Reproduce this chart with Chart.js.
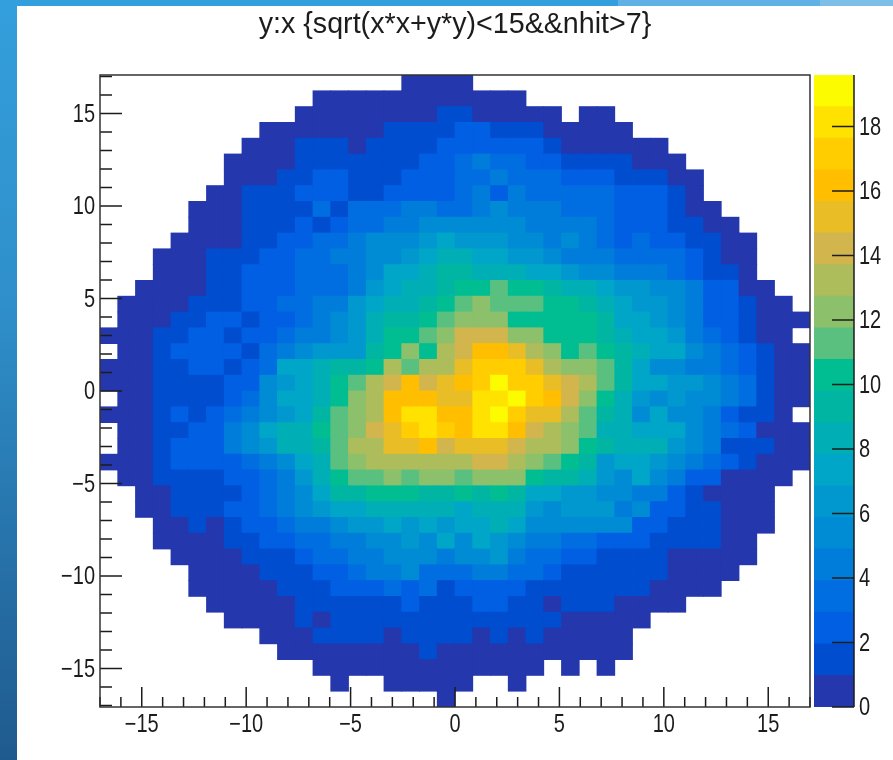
<!DOCTYPE html>
<html>
<head>
<meta charset="utf-8">
<title>y:x</title>
<script src="https://cdn.jsdelivr.net/npm/chart.js@4/dist/chart.umd.min.js"></script>
<style>
  html, body { margin: 0; padding: 0; background: #fff; overflow: hidden; width: 893px; height: 760px; }
  #stripe-left { position: absolute; left: 0; top: 0; width: 17px; height: 760px; background: linear-gradient(180deg, #339fdc 0%, #2f8fca 40%, #1f5a8e 100%); }
  #stripe-top { position: absolute; left: 0; top: 0; width: 893px; height: 6px; background: linear-gradient(90deg, #339fdc 0 618px, #5fb0e4 618px 820px, #7dbfe9 820px); }
  canvas { position: absolute; top: 0; }
  #heat { left: 0; }
  #palette { left: 800px; }
</style>
</head>
<body>
<div id="stripe-left"></div>
<div id="stripe-top"></div>
<canvas id="heat" width="812" height="760"></canvas>
<canvas id="palette" width="93" height="760"></canvas>
<script>
const titleText = 'y:x {sqrt(x*x+y*y)<15&&nhit>7}';
const xMin = -17;
const xMax = 17;
const yMin = -17.08;
const yMax = 17.08;
const zMax = 19.6;
const zTickStep = 2;
const _ = null;

// bin contents, top row first, left to right
const counts = [
[_,_,_,_,_,_,_,_,_,_, _,_,_,_,_,_,_,0,0,0, 0,_,_,_,_,_,_,_,_,_, _,_,_,_,_,_,_,_,_,_],
[_,_,_,_,_,_,_,_,_,_, _,_,0,0,0,0,0,0,0,0, 0,0,0,0,_,_,_,_,_,_, _,_,_,_,_,_,_,_,_,_],
[_,_,_,_,_,_,_,_,_,_, _,0,0,0,0,0,0,0,0,1, 1,0,0,0,0,0,_,0,0,_, _,_,_,_,_,_,_,_,_,_],
[_,_,_,_,_,_,_,_,_,0, 0,0,0,0,0,0,1,1,1,1, 2,2,1,1,1,0,0,0,0,0, _,_,_,_,_,_,_,_,_,_],
[_,_,_,_,_,_,_,_,0,0, 0,1,1,1,0,1,1,1,1,2, 2,2,2,2,2,1,0,0,0,0, 0,0,_,_,_,_,_,_,_,_],
[_,_,_,_,_,_,_,0,0,0, 0,1,1,1,1,1,1,1,2,2, 3,4,3,3,2,2,1,1,1,1, 0,0,0,_,_,_,_,_,_,_],
[_,_,_,_,_,_,_,0,0,0, 1,1,2,2,1,1,1,2,2,2, 3,3,4,3,3,3,2,2,2,1, 1,1,0,0,_,_,_,_,_,_],
[_,_,_,_,_,_,0,0,1,1, 1,2,2,2,1,1,2,2,2,2, 3,4,2,4,3,3,3,3,3,2, 2,2,1,0,_,_,_,_,_,_],
[_,_,_,_,_,0,0,0,1,1, 1,1,3,1,3,3,3,4,4,3, 3,4,5,4,4,4,3,3,3,2, 2,2,1,0,0,_,_,_,_,_],
[_,_,_,_,_,0,0,0,1,1, 1,2,1,2,3,3,4,4,5,5, 5,5,5,5,4,4,4,4,3,2, 2,2,1,1,0,0,_,_,_,_],
[_,_,_,_,0,0,0,0,1,1, 2,2,3,3,4,5,5,5,6,7, 6,6,6,5,5,4,5,4,3,2, 3,2,2,1,1,0,0,_,_,_],
[_,_,_,0,0,0,1,1,1,2, 2,3,3,4,4,5,5,6,7,8, 8,7,7,6,6,5,4,4,4,3, 3,3,3,2,1,0,0,_,_,_],
[_,_,_,0,0,0,1,1,2,2, 2,3,3,3,4,5,7,7,8,9, 9,8,8,8,7,7,6,5,5,4, 4,4,3,2,1,1,0,_,_,_],
[_,_,0,0,0,0,1,1,2,2, 2,3,3,3,4,6,7,8,8,9, 10,10,11,10,10,9,8,8,7,6, 6,5,5,4,2,2,0,0,_,_],
[_,0,0,0,0,1,1,1,2,2, 3,3,4,4,6,7,8,8,9,10, 11,12,11,11,11,10,10,9,8,7, 6,6,5,4,2,2,1,0,0,_],
[_,0,0,0,1,1,2,2,1,2, 2,3,4,5,6,8,9,9,10,11, 12,12,12,10,10,10,10,10,9,7, 7,6,5,4,2,2,1,0,0,0],
[0,0,0,1,1,2,2,1,2,2, 3,4,4,5,6,8,10,10,11,12, 14,14,14,12,12,10,10,10,9,8, 7,7,6,4,3,2,1,0,0,_],
[_,0,0,1,2,2,2,2,1,3, 4,5,6,6,6,9,10,12,10,13, 14,16,16,15,13,12,10,11,10,9, 8,7,7,5,4,3,2,1,0,0],
[0,0,0,1,1,2,2,1,2,3, 7,7,8,9,9,10,13,11,13,13, 15,17,17,17,15,13,12,12,11,9, 7,5,5,4,4,3,2,1,0,0],
[0,0,0,1,1,1,1,2,2,5, 6,7,8,10,11,13,14,16,14,15, 16,17,19,17,17,15,14,13,11,9, 7,7,6,6,5,4,3,1,0,0],
[_,0,0,1,1,1,1,2,3,5, 7,7,8,10,12,13,16,16,16,15, 15,18,18,19,17,16,14,12,10,8, 6,5,6,5,5,4,3,1,0,0],
[0,0,0,1,2,1,2,3,4,5, 6,7,9,11,12,13,16,18,18,16, 16,18,19,17,15,15,13,11,9,8, 5,7,5,5,4,2,1,1,0,_],
[_,0,0,1,1,2,2,4,5,7, 8,8,10,11,12,14,15,17,18,17, 16,18,18,16,14,13,12,11,8,8, 7,7,7,5,4,3,2,0,0,0],
[_,0,0,1,2,2,2,4,5,6, 8,8,9,11,13,13,15,15,16,14, 15,15,15,14,13,13,12,10,9,8, 8,8,6,5,4,1,1,1,0,0],
[0,0,0,1,2,2,2,2,3,4, 5,7,8,11,12,13,13,13,13,13, 13,14,14,13,12,11,10,9,6,7, 7,6,5,4,3,2,1,0,0,0],
[_,0,0,1,1,1,1,2,2,3, 4,6,8,10,11,11,12,11,12,12, 11,12,12,12,10,9,9,8,6,5, 7,5,4,2,2,0,0,0,0,_],
[_,_,0,0,1,1,1,1,2,3, 4,5,7,9,9,10,10,10,9,9, 10,9,10,9,7,7,6,6,5,5, 4,4,2,1,0,0,0,0,_,_],
[_,_,0,0,1,1,1,2,2,3, 4,5,6,7,7,8,8,8,8,8, 7,8,8,8,6,5,6,6,6,4, 5,2,2,1,1,0,0,0,_,_],
[_,_,_,0,0,1,0,1,2,2, 3,4,4,5,6,6,7,6,7,6, 7,7,8,7,5,5,5,5,5,5, 2,2,1,1,1,0,0,0,_,_],
[_,_,_,0,0,0,0,1,1,2, 2,3,3,4,4,5,5,6,5,7, 5,7,6,5,4,4,3,3,2,2, 2,1,1,1,1,0,0,_,_,_],
[_,_,_,_,0,0,0,0,1,1, 1,2,3,3,4,4,5,5,5,4, 5,5,6,4,3,3,2,2,1,1, 1,1,0,0,0,0,0,_,_,_],
[_,_,_,_,_,0,0,0,0,1, 1,1,2,2,3,4,4,5,3,3, 3,4,4,3,3,2,1,1,1,1, 1,1,0,0,0,0,_,_,_,_],
[_,_,_,_,_,0,0,0,0,0, 1,1,1,2,2,2,3,2,3,1, 2,2,2,2,1,1,1,1,1,1, 1,0,0,0,0,_,_,_,_,_],
[_,_,_,_,_,_,0,0,0,0, 0,1,1,1,1,1,1,2,1,1, 1,2,2,1,1,0,1,1,1,0, 0,0,0,_,_,_,_,_,_,_],
[_,_,_,_,_,_,_,0,0,0, 0,1,0,1,1,1,1,1,1,1, 1,1,1,1,1,1,0,0,0,0, 0,_,_,_,_,_,_,_,_,_],
[_,_,_,_,_,_,_,_,_,0, 0,0,1,1,1,1,0,1,1,1, 1,0,1,0,1,0,0,0,0,0, _,_,_,_,_,_,_,_,_,_],
[_,_,_,_,_,_,_,_,_,_, 0,0,0,0,0,0,0,0,1,0, 0,0,0,0,0,0,0,0,0,0, _,_,_,_,_,_,_,_,_,_],
[_,_,_,_,_,_,_,_,_,_, _,_,0,0,0,0,0,0,0,0, 0,0,0,0,0,_,0,_,0,_, _,_,_,_,_,_,_,_,_,_],
[_,_,_,_,_,_,_,_,_,_, _,_,_,0,_,_,0,0,0,0, 0,_,_,0,_,_,_,_,_,_, _,_,_,_,_,_,_,_,_,_],
[_,_,_,_,_,_,_,_,_,_, _,_,_,_,_,_,_,_,_,0, _,_,_,_,_,_,_,_,_,_, _,_,_,_,_,_,_,_,_,_]
];

// palette bands, bottom of the colour bar first
const zColors = [
  '#2437ad', '#004dd0', '#005fe3', '#006ee0', '#007cdb',
  '#008bd5', '#0098cf', '#00a6c8', '#00aeb5', '#00b6a3',
  '#00be92', '#5ac080', '#8cc06b', '#aebd5b', '#d2b54c',
  '#e9bd26', '#ffbf00', '#ffcd00', '#ffe200', '#fdfb00'
];

const fontFamily = '"Liberation Sans", sans-serif';
const inkColor = '#1c1c1c';
const bandSize = zMax / zColors.length;

function bandColor(z) {
  return zColors[Math.min(zColors.length - 1, Math.floor(z / bandSize))];
}

function minusLabel(v) {
  return v < 0 ? '\u2212' + Math.abs(v) : String(v);
}

function buildCells() {
  const cells = [];
  const dx = (xMax - xMin) / counts[0].length;
  const dy = (yMax - yMin) / counts.length;
  counts.forEach((row, r) => {
    row.forEach((z, c) => {
      if (z === null) return;
      cells.push({
        x: xMin + dx * (c + 0.5),
        y: [yMax - dy * (r + 1), yMax - dy * r],
        z: z
      });
    });
  });
  return cells;
}

// the picture's text is squeezed sideways, no narrow font installed so do it on the context
function squeezeText(ctx) {
  const fillText = ctx.fillText;
  ctx.fillText = function (text, x, y) {
    this.save();
    this.translate(x, y + 1.5);
    this.scale(text === titleText ? 0.955 : 0.8, 1);
    fillText.call(this, text, 0, 0);
    this.restore();
  };
  return ctx;
}

// ROOT style ticks point into the frame, so they are drawn by hand from the scales
const heatFrame = {
  id: 'heatFrame',
  afterDatasetsDraw(chart) {
    const { ctx, chartArea: a, scales } = chart;
    ctx.save();
    ctx.strokeStyle = inkColor;
    ctx.lineWidth = 1.5;
    ctx.beginPath();
    scales.x.ticks.forEach(t => {
      const px = scales.x.getPixelForValue(t.value);
      ctx.moveTo(px, a.bottom);
      ctx.lineTo(px, a.bottom - (t.value % 5 === 0 ? 20 : 10));
    });
    scales.y.ticks.forEach(t => {
      const py = scales.y.getPixelForValue(t.value);
      ctx.moveTo(a.left, py);
      ctx.lineTo(a.left + (t.value % 5 === 0 ? 22 : 12), py);
    });
    ctx.stroke();
    ctx.strokeStyle = '#333';
    ctx.strokeRect(a.left, a.top, a.right - a.left, a.bottom - a.top);
    ctx.restore();
  }
};

const paletteFrame = {
  id: 'paletteFrame',
  afterDatasetsDraw(chart) {
    const { ctx, chartArea: a, scales } = chart;
    ctx.save();
    ctx.strokeStyle = inkColor;
    ctx.lineWidth = 1.5;
    ctx.beginPath();
    ctx.moveTo(a.right, a.top);
    ctx.lineTo(a.right, a.bottom);
    scales.y.ticks.forEach(t => {
      const py = scales.y.getPixelForValue(t.value);
      ctx.moveTo(a.right, py);
      ctx.lineTo(a.right - 22, py);
    });
    ctx.stroke();
    ctx.restore();
  }
};

new Chart(squeezeText(document.getElementById('heat').getContext('2d')), {
  type: 'bar',
  data: {
    datasets: [{
      label: 'nhit',
      data: buildCells(),
      backgroundColor: ctx => bandColor(ctx.raw.z),
      borderWidth: 0,
      barPercentage: 1,
      categoryPercentage: 1,
      inflateAmount: 0.4
    }]
  },
  plugins: [heatFrame],
  options: {
    responsive: false,
    animation: false,
    layout: { padding: { left: 40, right: 2, top: 0, bottom: 3 } },
    plugins: {
      legend: { display: false },
      tooltip: { enabled: false },
      title: {
        display: true,
        text: titleText,
        color: inkColor,
        fullSize: false,
        font: { family: fontFamily, size: 30, weight: 'normal', lineHeight: 1.2 },
        padding: { top: 5, bottom: 34 }
      }
    },
    scales: {
      x: {
        type: 'linear',
        min: xMin,
        max: xMax,
        offset: false,
        grid: { display: false, drawTicks: false },
        border: { display: false },
        afterFit(scale) { scale.height = 50; },
        ticks: {
          stepSize: 1,
          autoSkip: false,
          maxRotation: 0,
          padding: 2,
          color: inkColor,
          font: { family: fontFamily, size: 25 },
          callback: v => (v % 5 === 0 ? minusLabel(v) : '')
        }
      },
      y: {
        type: 'linear',
        min: yMin,
        max: yMax,
        grid: { display: false, drawTicks: false },
        border: { display: false },
        afterFit(scale) { scale.width = 60; },
        ticks: {
          stepSize: 1,
          includeBounds: false,
          autoSkip: false,
          padding: 5,
          color: inkColor,
          font: { family: fontFamily, size: 25 },
          callback: v => (v % 5 === 0 ? minusLabel(v) : '')
        }
      }
    }
  }
});

new Chart(squeezeText(document.getElementById('palette').getContext('2d')), {
  type: 'bar',
  data: {
    labels: ['z'],
    datasets: zColors.map((color, i) => ({
      label: 'band ' + i,
      data: [[i * bandSize, (i + 1) * bandSize]],
      backgroundColor: color,
      borderWidth: 0,
      grouped: false,
      barPercentage: 1,
      categoryPercentage: 1,
      inflateAmount: 0.4
    }))
  },
  plugins: [paletteFrame],
  options: {
    responsive: false,
    animation: false,
    layout: { padding: { left: 14, right: 0, top: 75, bottom: 53 } },
    plugins: { legend: { display: false }, tooltip: { enabled: false } },
    scales: {
      x: { display: false },
      y: {
        position: 'right',
        min: 0,
        max: zMax,
        grid: { display: false, drawTicks: false },
        border: { display: false },
        afterFit(scale) { scale.width = 39; },
        ticks: {
          stepSize: zTickStep,
          includeBounds: false,
          autoSkip: false,
          padding: 5,
          color: inkColor,
          font: { family: fontFamily, size: 25 }
        }
      }
    }
  }
});
</script>
</body>
</html>
